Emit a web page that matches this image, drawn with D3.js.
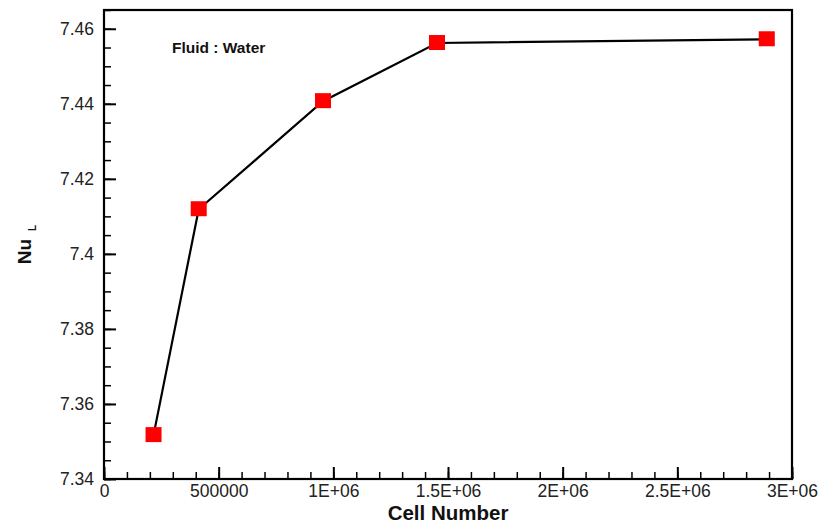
<!DOCTYPE html>
<html>
<head>
<meta charset="utf-8">
<script src="https://cdn.jsdelivr.net/npm/d3@7"></script>
<style>
	body { margin: 0; background: #fff; }
	svg { display: block; font-family: "Liberation Sans", Arial, sans-serif; }
	.tick text { fill: #222; font-size: 17.5px; }
	.axis path.domain { display: none; }
</style>
</head>
<body>
<div id="chart"></div>
<script>
let WIDTH = 823;
let HEIGHT = 529;
let MARKER = 16;

// grid convergence study
let cellNumbers = [216000, 413000, 955000, 1452000, 2890000];
let nusselt = [7.3517, 7.4119, 7.4407, 7.4562, 7.4572];

let xTicks = [0, 500000, 1000000, 1500000, 2000000, 2500000, 3000000];
let xTickLabels = ['0', '500000', '1E+06', '1.5E+06', '2E+06', '2.5E+06', '3E+06'];
let yTicks = [7.34, 7.36, 7.38, 7.40, 7.42, 7.44, 7.46];
let yTickLabels = ['7.34', '7.36', '7.38', '7.4', '7.42', '7.44', '7.46'];

let margin = {top: 10, right: 31, bottom: 50, left: 104};
let w = WIDTH - margin.left - margin.right;
let h = HEIGHT - margin.top - margin.bottom;

let x = d3.scaleLinear().domain([0, 3000000]).range([0, w]);
let y = d3.scaleLinear().domain([7.34, 7.465]).range([h, 0]);

let svg = d3.select('#chart').append('svg')
	.attr('width', WIDTH)
	.attr('height', HEIGHT);

let g = svg.append('g')
	.attr('transform', `translate(${margin.left},${margin.top})`);

// minor ticks
g.append('g').attr('class', 'axis')
	.attr('transform', `translate(0,${h})`)
	.call(d3.axisBottom(x).tickValues(d3.range(0, 3000001, 100000)).tickSize(-7).tickFormat(''))
	.selectAll('line').attr('stroke', '#000').attr('stroke-width', 1.5);

g.append('g').attr('class', 'axis')
	.call(d3.axisLeft(y).tickValues(d3.range(7.34, 7.466, 0.005)).tickSize(-7).tickFormat(''))
	.selectAll('line').attr('stroke', '#000').attr('stroke-width', 1.5);

// major ticks
let xAxis = g.append('g').attr('class', 'axis')
	.attr('transform', `translate(0,${h})`)
	.call(d3.axisBottom(x).tickValues(xTicks).tickSize(-12).tickPadding(6)
		.tickFormat((d, i) => xTickLabels[i]));
xAxis.selectAll('line').attr('stroke', '#000').attr('stroke-width', 2);

let yAxis = g.append('g').attr('class', 'axis')
	.call(d3.axisLeft(y).tickValues(yTicks).tickSize(-12).tickPadding(10)
		.tickFormat((d, i) => yTickLabels[i]));
yAxis.selectAll('line').attr('stroke', '#000').attr('stroke-width', 2);

// frame
g.append('rect')
	.attr('width', w)
	.attr('height', h)
	.attr('fill', 'none')
	.attr('stroke', '#000')
	.attr('stroke-width', 2.2);

let line = d3.line()
	.x((d, i) => x(cellNumbers[i]))
	.y((d) => y(d));

g.append('path')
	.datum(nusselt)
	.attr('d', line)
	.attr('fill', 'none')
	.attr('stroke', '#000')
	.attr('stroke-width', 2.2);

g.selectAll('.marker')
	.data(nusselt)
	.enter().append('rect')
	.attr('class', 'marker')
	.attr('x', (d, i) => x(cellNumbers[i]) - MARKER / 2)
	.attr('y', (d) => y(d) - MARKER / 2)
	.attr('width', MARKER)
	.attr('height', MARKER - 1)
	.attr('fill', '#f00');

g.append('text')
	.attr('x', 68)
	.attr('y', 43)
	.attr('font-size', 15.5)
	.attr('font-weight', 'bold')
	.attr('fill', '#111')
	.text('Fluid : Water');

svg.append('text')
	.attr('x', margin.left + w / 2)
	.attr('y', 520)
	.attr('text-anchor', 'middle')
	.attr('font-size', 20.5)
	.attr('font-weight', 'bold')
	.attr('fill', '#111')
	.text('Cell Number');

let yLabel = svg.append('text')
	.attr('transform', `translate(31,${margin.top + h / 2}) rotate(-90)`)
	.attr('text-anchor', 'middle')
	.attr('font-weight', 'bold')
	.attr('fill', '#111');
yLabel.append('tspan').attr('font-size', 19).text('Nu');
yLabel.append('tspan').attr('font-size', 10).attr('dx', 8).attr('dy', 5).text('L');
</script>
</body>
</html>
